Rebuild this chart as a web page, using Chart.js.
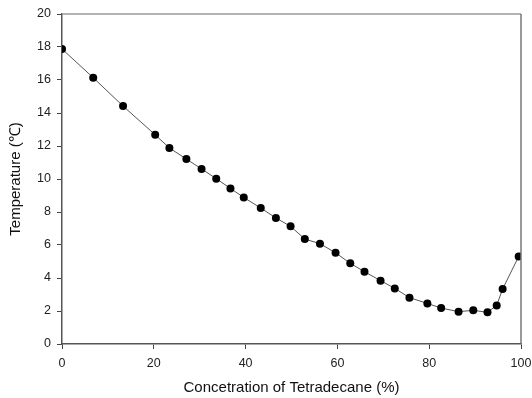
<!DOCTYPE html>
<html>
<head>
<meta charset="utf-8">
<script src="https://cdn.jsdelivr.net/npm/chart.js@4/dist/chart.umd.min.js"></script>
<style>
html,body{margin:0;padding:0;background:#fff;}
#wrap{width:532px;height:398px;position:relative;}
</style>
</head>
<body>
<div id="wrap"><canvas id="c"></canvas></div>
<script>
const concentration = [0, 6.8, 13.3, 20.3, 23.4, 27.1, 30.4, 33.6, 36.7, 39.6, 43.3, 46.6, 49.8, 52.9, 56.2, 59.6, 62.8, 65.9, 69.4, 72.5, 75.7, 79.6, 82.6, 86.4, 89.6, 92.7, 94.7, 96.0, 99.5];
const temperature = [17.88, 16.14, 14.42, 12.68, 11.88, 11.21, 10.61, 10.02, 9.43, 8.88, 8.24, 7.64, 7.13, 6.36, 6.08, 5.53, 4.89, 4.38, 3.84, 3.37, 2.81, 2.46, 2.18, 1.96, 2.04, 1.92, 2.34, 3.33, 5.31];
const xTicks = [0, 20, 40, 60, 80, 100];
const yTicks = [0, 2, 4, 6, 8, 10, 12, 14, 16, 18, 20];
const xTitle = 'Concetration of Tetradecane (%)';
const yTitle = 'Temperature (\u2103)';

const points = concentration.map((x, i) => ({x: x, y: temperature[i]}));

const frame = {
  id: 'frame',
  afterDraw(chart) {
    const {ctx, chartArea: a} = chart;
    ctx.save();
    ctx.lineWidth = 1.5;
    ctx.strokeStyle = '#9a9a9a';
    ctx.beginPath();
    ctx.moveTo(a.left, a.top);
    ctx.lineTo(a.right, a.top);
    ctx.stroke();
    ctx.strokeStyle = '#777';
    ctx.beginPath();
    ctx.moveTo(a.right, a.top);
    ctx.lineTo(a.right, a.bottom);
    ctx.stroke();
    ctx.restore();
  }
};

const font = "'Liberation Sans', Arial, sans-serif";

new Chart(document.getElementById('c'), {
  type: 'scatter',
  data: {
    datasets: [{
      data: points,
      showLine: true,
      borderColor: '#555',
      borderWidth: 1,
      backgroundColor: '#000',
      pointBackgroundColor: '#000',
      pointBorderColor: '#000',
      pointRadius: 4,
      pointBorderWidth: 0,
      tension: 0
    }]
  },
  options: {
    responsive: true,
    maintainAspectRatio: false,
    animation: false,
    devicePixelRatio: 1,
    layout: {padding: {left: 0, right: 11, top: 14, bottom: 0}},
    plugins: {legend: {display: false}, tooltip: {enabled: false}},
    scales: {
      x: {
        type: 'linear',
        min: 0, max: 100,
        afterBuildTicks: s => { s.ticks = xTicks.map(v => ({value: v})); },
        afterFit: s => { s.height = 54; s.paddingLeft = 0; s.paddingRight = 0; },
        grid: {drawOnChartArea: false, drawTicks: true, tickLength: 5, color: '#444', tickWidth: 1},
        border: {display: true, color: '#555', width: 1.5},
        ticks: {color: '#222', font: {family: font, size: 12.5}, padding: 7, maxRotation: 0},
        title: {display: true, text: xTitle, color: '#111', font: {family: font, size: 15}, padding: {top: 0, bottom: 1}}
      },
      y: {
        type: 'linear',
        min: 0, max: 20,
        afterBuildTicks: s => { s.ticks = yTicks.map(v => ({value: v})); },
        afterFit: s => { s.width = 62; s.paddingTop = 0; s.paddingBottom = 0; },
        grid: {drawOnChartArea: false, drawTicks: true, tickLength: 5, color: '#444', tickWidth: 1},
        border: {display: true, color: '#555', width: 1.5},
        ticks: {color: '#222', font: {family: font, size: 12.5}, padding: 6},
        title: {display: true, text: yTitle, color: '#111', font: {family: font, size: 15}, padding: {top: 7, bottom: 0}}
      }
    }
  },
  plugins: [frame]
});
</script>
</body>
</html>
